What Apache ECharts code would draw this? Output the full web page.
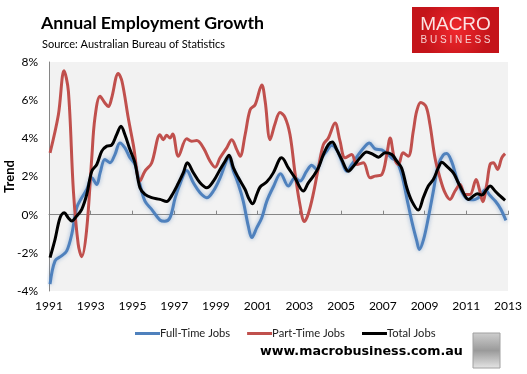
<!DOCTYPE html>
<html>
<head>
<meta charset="utf-8">
<script src="https://cdn.jsdelivr.net/npm/echarts@6/dist/echarts.min.js"></script>
<style>
html,body{margin:0;padding:0;background:#fff;}
#chart{width:527px;height:374px;}
</style>
</head>
<body>
<div id="chart"></div>
<script>
// ---- Data (year, % annual growth, trend) ----
var seriesNames = ['Full-Time Jobs', 'Part-Time Jobs', 'Total Jobs'];
var xTickLabels = ['1991','1993','1995','1997','1999','2001','2003','2005','2007','2009','2011','2013'];
var yTickLabels = ['-4%','-2%','0%','2%','4%','6%','8%'];

var fullTimeJobs = [
  [1991.05,-3.64],[1991.29,-2.42],[1991.6,-2.16],[1991.85,-1.9],[1992.09,-1.03],[1992.33,0.37],
  [1992.57,0.89],[1992.81,1.32],[1993.05,1.93],[1993.29,1.58],[1993.45,2.19],[1993.68,2.89],
  [1993.92,2.72],[1994.16,3.15],[1994.4,3.76],[1994.64,3.5],[1994.88,2.98],[1995.12,2.63],
  [1995.36,1.58],[1995.6,0.71],[1995.92,0.28],[1996.32,-0.29],[1996.55,-0.35],[1996.8,-0.16],
  [1997.05,0.89],[1997.3,1.67],[1997.6,2.31],[1997.92,1.67],[1998.24,1.15],[1998.56,0.89],
  [1998.88,1.24],[1999.2,1.93],[1999.44,2.63],[1999.6,3.01],[1999.84,2.28],[2000.08,1.58],
  [2000.31,0.71],[2000.55,-0.59],[2000.72,-1.2],[2000.96,-0.68],[2001.2,-0.16],[2001.44,0.71],
  [2001.75,1.45],[2002.1,2.15],[2002.47,1.5],[2002.79,1.93],[2003.03,1.76],[2003.35,2.28],
  [2003.59,2.59],[2003.83,2.37],[2004.07,2.98],[2004.31,3.33],[2004.55,3.64],[2004.79,3.41],
  [2005.03,2.8],[2005.27,2.28],[2005.51,2.63],[2005.83,3.15],[2006.15,3.59],[2006.35,3.76],
  [2006.63,3.45],[2006.95,3.39],[2007.27,3.15],[2007.43,2.96],[2007.67,2.78],[2007.91,2.09],
  [2008.15,0.87],[2008.39,-0.35],[2008.63,-1.39],[2008.75,-1.83],[2008.95,-1.31],[2009.18,-0.17],
  [2009.42,1.22],[2009.66,2.61],[2009.9,3.13],[2010.06,3.2],[2010.3,2.78],[2010.54,1.92],
  [2010.78,1.22],[2011.02,0.84],[2011.34,0.78],[2011.66,0.96],[2011.9,1.31],[2012.14,1.0],
  [2012.4,0.7],[2012.65,0.3],[2012.9,-0.3]
];

var partTimeJobs = [
  [1991.05,3.24],[1991.45,5.24],[1991.72,7.54],[1991.93,6.46],[1992.17,1.24],[1992.4,-1.55],
  [1992.57,-2.2],[1992.8,-0.84],[1993.05,2.98],[1993.2,5.06],[1993.45,6.2],[1993.68,5.85],
  [1993.85,5.67],[1994.0,6.1],[1994.32,7.4],[1994.5,6.98],[1994.8,5.06],[1995.04,3.67],
  [1995.36,1.76],[1995.6,2.28],[1995.92,2.71],[1996.32,4.19],[1996.48,3.93],[1996.64,4.16],
  [1996.8,4.02],[1996.93,4.23],[1997.2,3.06],[1997.6,3.98],[1997.84,3.85],[1998.08,3.88],
  [1998.4,3.5],[1998.72,2.8],[1998.96,2.49],[1999.2,2.98],[1999.52,3.5],[1999.76,3.93],
  [2000.0,3.41],[2000.16,3.06],[2000.4,4.19],[2000.64,5.5],[2000.88,5.76],[2001.2,6.8],
  [2001.36,5.94],[2001.6,3.93],[2001.83,4.75],[2002.07,5.35],[2002.31,5.1],[2002.55,4.2],
  [2002.79,2.2],[2003.03,0.5],[2003.24,-0.36],[2003.43,0.05],[2003.67,1.1],[2003.91,2.45],
  [2004.15,3.67],[2004.39,4.02],[2004.71,4.8],[2004.95,3.85],[2005.19,2.98],[2005.51,3.15],
  [2005.75,2.63],[2006.07,2.72],[2006.39,1.93],[2006.63,2.02],[2006.95,2.1],[2007.19,3.15],
  [2007.35,4.02],[2007.55,2.98],[2007.75,2.63],[2007.97,3.24],[2008.22,3.06],[2008.46,4.37],
  [2008.62,5.41],[2008.82,5.88],[2009.07,5.67],[2009.26,4.72],[2009.5,2.98],[2009.74,1.93],
  [2009.98,1.15],[2010.22,0.8],[2010.46,1.24],[2010.7,1.58],[2010.94,1.06],[2011.18,1.06],
  [2011.47,1.84],[2011.63,1.32],[2011.79,0.68],[2011.98,1.58],[2012.14,2.63],[2012.3,2.72],
  [2012.5,2.37],[2012.7,2.98],[2012.86,3.2]
];

var totalJobs = [
  [1991.05,-2.25],[1991.29,-1.29],[1991.53,-0.16],[1991.73,0.1],[1991.92,-0.16],[1992.09,-0.33],
  [1992.33,-0.07],[1992.57,0.28],[1992.81,1.06],[1993.05,2.28],[1993.29,2.63],[1993.53,3.33],
  [1993.77,3.59],[1994.0,3.64],[1994.24,4.19],[1994.45,4.63],[1994.64,4.19],[1994.88,3.41],
  [1995.12,2.72],[1995.36,1.41],[1995.6,1.06],[1995.92,0.89],[1996.32,0.8],[1996.64,0.69],
  [1996.88,1.0],[1997.2,1.65],[1997.44,2.2],[1997.63,2.72],[1997.92,2.2],[1998.24,1.67],
  [1998.56,1.41],[1998.88,1.76],[1999.2,2.37],[1999.44,2.8],[1999.63,3.12],[1999.84,2.45],
  [2000.08,1.93],[2000.4,1.32],[2000.56,0.89],[2000.76,0.57],[2000.96,1.06],[2001.12,1.45],
  [2001.44,1.72],[2001.75,2.19],[2002.04,2.89],[2002.15,2.98],[2002.47,2.45],[2002.79,1.93],
  [2003.19,1.24],[2003.43,1.67],[2003.67,2.02],[2003.91,2.45],[2004.15,3.15],[2004.39,3.67],
  [2004.58,3.81],[2004.79,3.41],[2005.03,2.89],[2005.35,2.28],[2005.59,2.54],[2005.91,2.98],
  [2006.23,3.29],[2006.55,3.15],[2006.79,3.01],[2007.11,3.24],[2007.43,3.15],[2007.67,2.8],
  [2007.9,2.45],[2008.15,1.41],[2008.39,0.71],[2008.7,0.24],[2008.94,0.89],[2009.18,1.5],
  [2009.42,1.84],[2009.66,2.45],[2009.83,2.75],[2010.06,2.54],[2010.38,2.19],[2010.62,1.67],
  [2010.86,1.15],[2011.1,0.8],[2011.34,0.98],[2011.53,1.1],[2011.74,1.03],[2011.98,1.32],
  [2012.14,1.5],[2012.38,1.24],[2012.62,0.98],[2012.86,0.75]
];

var seriesColors = ['#4f81bd', '#c0504d', '#000000'];

// ---- Chart ----
var chart = echarts.init(document.getElementById('chart'), null, {renderer: 'canvas'});
var FONT = 'Lato, "Open Sans", sans-serif';

function xLabel(v) {
  var idx = Math.round((v - 1991) / 2);
  return xTickLabels[idx] !== undefined ? xTickLabels[idx] : '';
}
function yLabel(v) {
  var idx = Math.round((v + 4) / 2);
  return yTickLabels[idx] !== undefined ? yTickLabels[idx] : '';
}

var option = {
  animation: false,
  backgroundColor: '#ffffff',
  title: [
    {text: 'Annual Employment Growth', left: 36, top: 9,
     textStyle: {fontFamily: FONT, fontWeight: 'bold', fontSize: 17.7, color: '#000'}},
    {text: 'Source: Australian Bureau of Statistics', left: 37, top: 34,
     textStyle: {fontFamily: FONT, fontWeight: 'normal', fontSize: 11, color: '#000'}}
  ],
  legend: {
    data: seriesNames,
    left: 130, top: 323,
    icon: 'rect', itemWidth: 25, itemHeight: 3, itemGap: 17,
    textStyle: {fontFamily: FONT, fontSize: 11.2, color: '#222', padding: [0, 0, 0, -5]}
  },
  grid: {left: 49, right: 19, top: 62, bottom: 83, show: true, backgroundColor: '#f2f2f2', borderWidth: 0,
         outerBoundsMode: 'none', containLabel: false},
  xAxis: [
    {type: 'value', min: 1991, max: 2013, interval: 2, position: 'bottom',
     axisLine: {show: false, onZero: false}, axisTick: {show: false}, splitLine: {show: false},
     axisLabel: {formatter: xLabel, fontFamily: FONT, fontSize: 12, color: '#000', margin: 9}},
    {type: 'value', min: 1991, max: 2013, interval: 2, position: 'bottom',
     axisLine: {show: true, onZero: true, lineStyle: {color: '#868686', width: 1}},
     axisTick: {show: true, inside: true, length: 4, lineStyle: {color: '#868686'}},
     axisLabel: {show: false}, splitLine: {show: false}}
  ],
  yAxis: {
    type: 'value', min: -4, max: 8, interval: 2,
    name: 'Trend', nameLocation: 'middle', nameGap: 33, nameRotate: 90, nameMoveOverlap: false,
    nameTextStyle: {fontFamily: FONT, fontWeight: 'bold', fontSize: 13, color: '#000'},
    axisLine: {show: true, onZero: false, lineStyle: {color: '#868686', width: 1}},
    axisTick: {show: false}, splitLine: {show: false},
    axisLabel: {formatter: yLabel, fontFamily: FONT, fontSize: 12, color: '#000', margin: 11}
  },
  series: [
    {name: seriesNames[0], type: 'line', data: fullTimeJobs, showSymbol: false, smooth: 0.35,
     color: seriesColors[0],
     lineStyle: {width: 3, color: seriesColors[0], shadowColor: 'rgba(79,129,189,0.55)', shadowBlur: 4}},
    {name: seriesNames[1], type: 'line', data: partTimeJobs, showSymbol: false, smooth: 0.35,
     color: seriesColors[1], lineStyle: {width: 3, color: seriesColors[1]}},
    {name: seriesNames[2], type: 'line', data: totalJobs, showSymbol: false, smooth: 0.35,
     color: seriesColors[2], lineStyle: {width: 3, color: seriesColors[2]}}
  ],
  graphic: [
    {type: 'rect', shape: {x: 412, y: 7, width: 87, height: 46},
     style: {fill: new echarts.graphic.RadialGradient(0.5, 0.5, 0.75, [
       {offset: 0, color: '#f0282d'}, {offset: 1, color: '#c4141a'}])}},
    {type: 'text', x: 455.5, y: 25, style: {text: 'MACRO', fill: '#fbe3e3', align: 'center', verticalAlign: 'middle',
      font: '300 19px "Liberation Sans", Arial, sans-serif'}},
    {type: 'text', x: 455.5, y: 40, style: {text: 'B U S I N E S S', fill: '#f7cfcf', align: 'center', verticalAlign: 'middle',
      font: '10px "Liberation Sans", Arial, sans-serif'}},
    {type: 'text', x: 260, y: 352, style: {text: 'www.macrobusiness.com.au', fill: '#000', align: 'left', verticalAlign: 'middle',
      font: 'bold 12.7px "DejaVu Sans", Verdana, sans-serif'}},
    {type: 'rect', shape: {x: 473, y: 333, width: 27, height: 35},
     style: {fill: new echarts.graphic.LinearGradient(0, 0, 0, 1, [
       {offset: 0, color: '#cfcfcf'}, {offset: 0.5, color: '#9a9a9a'}, {offset: 1, color: '#e6e6e6'}]),
       stroke: '#a0a0a0', lineWidth: 1}}
  ]
};
chart.setOption(option);
</script>
</body>
</html>
